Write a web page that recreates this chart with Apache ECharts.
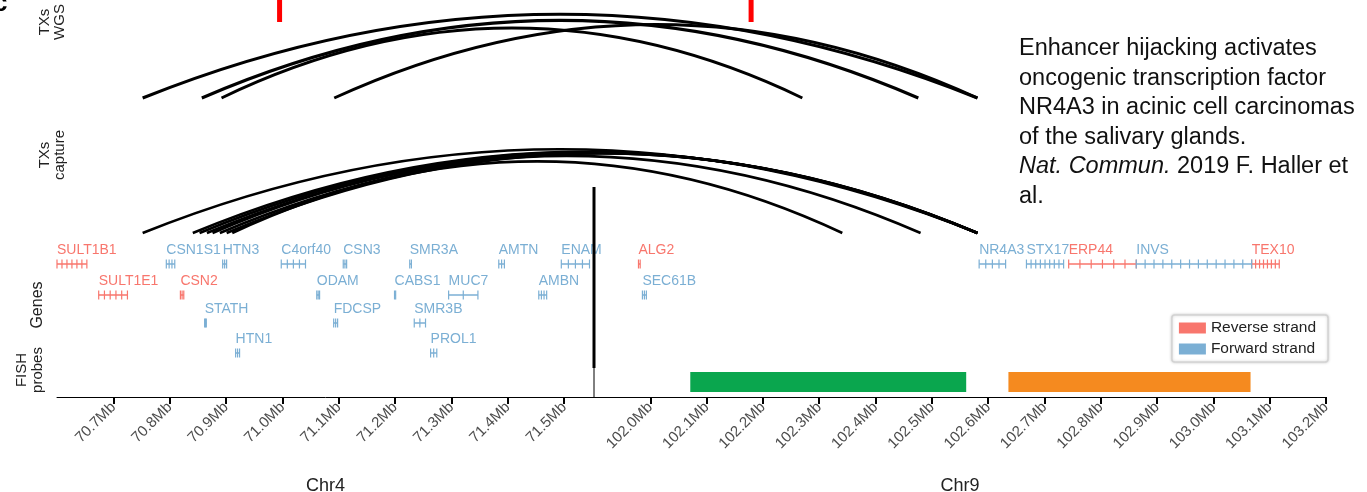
<!DOCTYPE html>
<html><head><meta charset="utf-8">
<script src="https://cdn.jsdelivr.net/npm/echarts@6/dist/echarts.min.js"></script>
<style>html,body{margin:0;padding:0;background:#fff}#c{width:1367px;height:492px}</style>
</head><body><div id="c"></div>
<script>
const FONT = '"Liberation Sans", Arial, Helvetica, sans-serif';
const REV = '#F8766D', FWD = '#7BAFD4';

// ---- axes (Mb) ----
const chr4Range = [70.6, 71.553];
const chr9Range = [101.9, 103.2];
const chr4Ticks = [70.7, 70.8, 70.9, 71.0, 71.1, 71.2, 71.3, 71.4, 71.5];
const chr9Ticks = [102.0, 102.1, 102.2, 102.3, 102.4, 102.5, 102.6, 102.7, 102.8, 102.9, 103.0, 103.1, 103.2];

// ---- translocation breakpoints: [Chr4 Mb, Chr9 Mb] ----
const wgsArcs = [[70.752, 102.581], [70.857, 102.476], [70.892, 102.270], [71.092, 102.581]];
const captureArcs = [[70.752, 102.581], [70.841, 102.581], [70.853, 102.581], [70.866, 102.581],
                     [70.876, 102.480], [70.889, 102.581], [70.901, 102.581], [70.911, 102.341]];

// ---- genes: [name, start Mb, end Mb, strand, row, exon count] ----
const genesChr4 = [
  ['SULT1B1', 70.600, 70.653, '-', 0, 7], ['CSN1S1', 70.794, 70.809, '+', 0, 4],
  ['HTN3', 70.894, 70.901, '+', 0, 3], ['C4orf40', 70.998, 71.041, '+', 0, 5],
  ['CSN3', 71.108, 71.114, '+', 0, 3], ['SMR3A', 71.226, 71.229, '+', 0, 2],
  ['AMTN', 71.384, 71.394, '+', 0, 3], ['ENAM', 71.495, 71.545, '+', 0, 5],
  ['SULT1E1', 70.674, 70.725, '-', 1, 6], ['CSN2', 70.819, 70.825, '-', 1, 3],
  ['ODAM', 71.061, 71.066, '+', 1, 3], ['CABS1', 71.199, 71.201, '+', 1, 2],
  ['MUC7', 71.295, 71.347, '+', 1, 3], ['AMBN', 71.455, 71.469, '+', 1, 4],
  ['STATH', 70.862, 70.865, '+', 2, 3], ['FDCSP', 71.091, 71.098, '+', 2, 3],
  ['SMR3B', 71.234, 71.254, '+', 2, 3], ['HTN1', 70.917, 70.924, '+', 3, 3],
  ['PROL1', 71.263, 71.274, '+', 3, 3]
];
const genesChr9 = [
  ['ALG2', 101.979, 101.982, '-', 0, 2], ['SEC61B', 101.986, 101.993, '+', 1, 3],
  ['NR4A3', 102.584, 102.631, '+', 0, 5], ['STX17', 102.668, 102.734, '+', 0, 9],
  ['ERP44', 102.743, 102.863, '-', 0, 7], ['INVS', 102.863, 103.068, '+', 0, 14],
  ['TEX10', 103.068, 103.117, '-', 0, 8]
];
// ---- FISH probes on Chr9: [start, end, colour] ----
const fishProbes = [[102.071, 102.561, '#0AA64E'], [102.636, 103.066, '#F58A1F']];
// ---- red marks at top ----
const redMark4 = [70.995];
const redMark9 = [102.179];

// ---- track layout (y in axis units; 0 = axis line) ----
const GENE_ROWS = [133, 102, 74, 44];
const WGS_BASE = 299, CAP_BASE = 164;
const ARC_K = 2.9;

const chart = echarts.init(document.getElementById('c'), null, {renderer: 'canvas'});

function geneSeries(name, list, strand, gi, color) {
  const rows = list.filter(g => g[3] === strand);
  return {
    type: 'custom', name: name, xAxisIndex: gi, yAxisIndex: gi,
    itemStyle: {color: color}, clip: false, silent: true,
    data: rows.map(g => [g[1], g[2], g[4], g[5]]),
    renderItem: function (params, api) {
      const g = rows[params.dataIndex];
      const y = GENE_ROWS[g[4]];
      const s = api.coord([g[1], y]);
      const e = api.coord([g[2], y]);
      const ch = [];
      ch.push({type: 'line', shape: {x1: s[0], y1: s[1], x2: e[0], y2: e[1]},
        style: {stroke: color, lineWidth: 1.5}});
      const n = g[5];
      for (let i = 0; i < n; i++) {
        const x = n === 1 ? s[0] : s[0] + (e[0] - s[0]) * i / (n - 1);
        ch.push({type: 'line', shape: {x1: x, y1: s[1] - 4.5, x2: x, y2: s[1] + 4.5},
          style: {stroke: color, lineWidth: 1.2}});
      }
      ch.push({type: 'text', style: {text: g[0], x: s[0], y: s[1] - 14, fill: color,
        fontSize: 14, fontFamily: FONT, align: 'left', verticalAlign: 'middle'}});
      return {type: 'group', children: ch};
    }
  };
}

function arcSeries(list, base, width) {
  return {
    type: 'custom', coordinateSystem: 'none', silent: true,
    data: list.map(a => [a[0], a[1]]),
    renderItem: function (params, api) {
      const a = list[params.dataIndex];
      const p1 = chart.convertToPixel({xAxisIndex: 0, yAxisIndex: 0}, [a[0], base]);
      const p2 = chart.convertToPixel({xAxisIndex: 1, yAxisIndex: 1}, [a[1], base]);
      if (!p1 || !p2) return null;
      const span = p2[0] - p1[0];
      const h = ARC_K * Math.sqrt(span);
      return {type: 'bezierCurve', shape: {x1: p1[0], y1: p1[1], x2: p2[0], y2: p2[1],
        cpx1: (p1[0] + p2[0]) / 2, cpy1: p1[1] - 2 * h},
        style: {stroke: '#000', lineWidth: width, fill: null}};
    }
  };
}

function xAxis(gi, range, ticks, name) {
  return {
    type: 'value', gridIndex: gi, min: range[0], max: range[1],
    axisLine: {show: true, lineStyle: {color: '#000', width: 1}},
    axisTick: {show: true, customValues: ticks, length: 7, lineStyle: {color: '#000', width: 2}},
    axisLabel: {show: true, customValues: ticks, rotate: 45, fontSize: 15, color: '#4d4d4d',
      fontFamily: FONT, margin: 8, formatter: v => v.toFixed(1) + 'Mb'},
    splitLine: {show: false},
    name: name, nameLocation: 'middle', nameGap: 80,
    nameTextStyle: {fontSize: 18, color: '#222', fontFamily: FONT}
  };
}

const option = {
  animation: false,
  backgroundColor: '#fff',
  grid: [
    {left: 57, width: 537, top: 0, height: 397, containLabel: false, outerBoundsMode: 'none'},
    {left: 594, width: 732, top: 0, height: 397, containLabel: false, outerBoundsMode: 'none'}
  ],
  xAxis: [xAxis(0, chr4Range, chr4Ticks, 'Chr4'), xAxis(1, chr9Range, chr9Ticks, 'Chr9')],
  yAxis: [
    {type: 'value', gridIndex: 0, min: 0, max: 397, show: false},
    {type: 'value', gridIndex: 1, min: 0, max: 397, show: false}
  ],
  legend: {
    data: ['Reverse strand', 'Forward strand'], orient: 'vertical', right: 39, top: 315,
    icon: 'rect', itemWidth: 27, itemHeight: 11, itemGap: 5, selectedMode: false,
    padding: [5, 12, 5, 7], borderColor: '#d3d3d3', borderWidth: 1.5, borderRadius: 3,
    backgroundColor: '#fff', shadowBlur: 3, shadowColor: 'rgba(0,0,0,0.18)',
    textStyle: {fontSize: 15.5, color: '#222', fontFamily: FONT}
  },
  graphic: [
    {type: 'text', x: -7, y: -9, style: {text: 'c', fontSize: 26, fontWeight: 'bold', fill: '#000', fontFamily: FONT}},
    {type: 'text', x: 52, y: 22, rotation: Math.PI / 2, style: {text: 'TXs\nWGS', fontSize: 15, lineHeight: 15, fill: '#222', align: 'center', verticalAlign: 'middle', fontFamily: FONT}},
    {type: 'text', x: 52, y: 155, rotation: Math.PI / 2, style: {text: 'TXs\ncapture', fontSize: 15, lineHeight: 15, fill: '#222', align: 'center', verticalAlign: 'middle', fontFamily: FONT}},
    {type: 'text', x: 38, y: 305, rotation: Math.PI / 2, style: {text: 'Genes', fontSize: 16, fill: '#222', align: 'center', verticalAlign: 'middle', fontFamily: FONT}},
    {type: 'text', x: 30, y: 370, rotation: Math.PI / 2, style: {text: 'FISH\nprobes', fontSize: 15, lineHeight: 16, fill: '#222', align: 'center', verticalAlign: 'middle', fontFamily: FONT}},
    {type: 'text', left: 1019, top: 34, style: {
      text: 'Enhancer hijacking activates\noncogenic transcription factor\nNR4A3 in acinic cell carcinomas\nof the salivary glands.\n{i|Nat. Commun.} 2019 F. Haller et\nal.',
      fontSize: 23.5, lineHeight: 29.5, fill: '#111', fontFamily: FONT,
      rich: {i: {fontStyle: 'italic', fontSize: 23.5, fontFamily: FONT, fill: '#111', lineHeight: 29.5}}}}
  ],
  series: [
    arcSeries(wgsArcs, WGS_BASE, 3),
    arcSeries(captureArcs, CAP_BASE, 2.6),
    geneSeries('Reverse strand', genesChr4, '-', 0, REV),
    geneSeries('Forward strand', genesChr4, '+', 0, FWD),
    geneSeries('Reverse strand', genesChr9, '-', 1, REV),
    geneSeries('Forward strand', genesChr9, '+', 1, FWD),
    {
      type: 'custom', name: 'FISH', xAxisIndex: 1, yAxisIndex: 1, clip: false, silent: true,
      data: fishProbes.map(p => [p[0], p[1]]),
      renderItem: function (params, api) {
        const p = fishProbes[params.dataIndex];
        const a = api.coord([p[0], 25]), b = api.coord([p[1], 5]);
        return {type: 'rect', shape: {x: a[0], y: a[1], width: b[0] - a[0], height: b[1] - a[1]},
          style: {fill: p[2]}};
      }
    },
    {
      type: 'custom', name: 'break', xAxisIndex: 1, yAxisIndex: 1, clip: false, silent: true,
      data: [[chr9Range[0]]],
      renderItem: function (params, api) {
        const t = api.coord([chr9Range[0], 210]), m = api.coord([chr9Range[0], 29]), b = api.coord([chr9Range[0], 0]);
        return {type: 'group', children: [
          {type: 'line', shape: {x1: t[0], y1: t[1], x2: m[0], y2: m[1]}, style: {stroke: '#000', lineWidth: 3}},
          {type: 'line', shape: {x1: m[0], y1: m[1], x2: b[0], y2: b[1]}, style: {stroke: '#000', lineWidth: 1}}
        ]};
      }
    },
    {
      type: 'custom', name: 'mark4', xAxisIndex: 0, yAxisIndex: 0, clip: false, silent: true,
      data: redMark4.map(v => [v]),
      renderItem: function (params, api) {
        const t = api.coord([redMark4[params.dataIndex], 397]), b = api.coord([redMark4[params.dataIndex], 375]);
        return {type: 'line', shape: {x1: t[0], y1: t[1], x2: b[0], y2: b[1]}, style: {stroke: '#f00', lineWidth: 5}};
      }
    },
    {
      type: 'custom', name: 'mark9', xAxisIndex: 1, yAxisIndex: 1, clip: false, silent: true,
      data: redMark9.map(v => [v]),
      renderItem: function (params, api) {
        const t = api.coord([redMark9[params.dataIndex], 397]), b = api.coord([redMark9[params.dataIndex], 375]);
        return {type: 'line', shape: {x1: t[0], y1: t[1], x2: b[0], y2: b[1]}, style: {stroke: '#f00', lineWidth: 5}};
      }
    }
  ]
};
chart.setOption(option);
</script></body></html>
